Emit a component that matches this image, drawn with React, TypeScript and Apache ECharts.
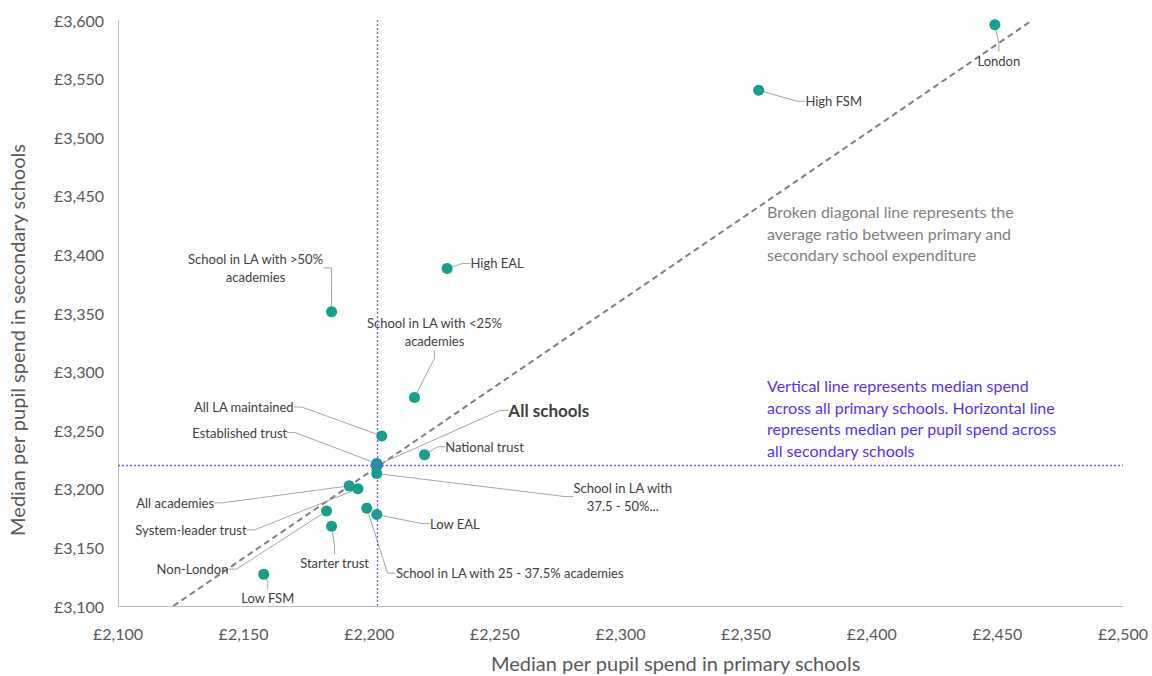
import React, { useEffect, useRef } from "react";
import * as echarts from "echarts";

// ---- data ----
const names = [
  "London",
  "High FSM",
  "High EAL",
  "School in LA with >50%\nacademies",
  "School in LA with <25%\nacademies",
  "All LA maintained",
  "Established trust",
  "All schools",
  "National trust",
  "School in LA with\n37.5 - 50%...",
  "All academies",
  "System-leader trust",
  "Non-London",
  "Starter trust",
  "Low EAL",
  "School in LA with 25 - 37.5% academies",
  "Low FSM",
];
const primarySpend = [2449, 2355, 2231, 2185, 2218, 2205, 2203, 2203, 2222, 2203, 2192, 2195.5, 2183, 2185, 2203, 2199, 2158];
const secondarySpend = [3596, 3540, 3388, 3351, 3278, 3245, 3221.5, 3220, 3229, 3213, 3202.5, 3200, 3181, 3168, 3178, 3183.5, 3127];

const medianPrimary = 2203;
const medianSecondary = 3220;
const ratioLineX = [2122, 2464];
const ratioLineY = [3100, 3600];

const xTicks = { min: 2100, max: 2500, interval: 50 };
const yTicks = { min: 3100, max: 3600, interval: 50 };

const xTitle = "Median per pupil spend in primary schools";
const yTitle = "Median per pupil spend in secondary schools";
const noteDiagonal = "Broken diagonal line represents the\naverage ratio between primary and\nsecondary school expenditure";
const noteMedian = "Vertical line represents median spend\nacross all primary schools. Horizontal line\nrepresents median per pupil spend across\nall secondary schools";

// ---- label layout (pixel offsets of labels from their points) ----
const labelOffsets: Record<string, [number, number]> = {
  "London": [4, 36],
  "High FSM": [75, 11],
  "High EAL": [50, -5],
  "School in LA with >50%\nacademies": [-76, -44],
  "School in LA with <25%\nacademies": [20, -65],
  "All LA maintained": [-138, -29],
  "Established trust": [-137, -31],
  "All schools": [172, -55],
  "National trust": [60, -8],
  "School in LA with\n37.5 - 50%...": [246, 23],
  "All academies": [-174, 17],
  "System-leader trust": [-167, 41],
  "Non-London": [-134, 58],
  "Starter trust": [3, 37],
  "Low EAL": [78, 9],
  "School in LA with 25 - 37.5% academies": [143, 65],
  "Low FSM": [4, 24],
};

const FONT = "Lato, 'Open Sans', sans-serif";
const fmt = (v: number) => "£" + v.toLocaleString("en-GB");

export default function App() {
  const ref = useRef<HTMLDivElement>(null);
  useEffect(() => {
    if (!ref.current) return;
    document.body.style.margin = "0";
    const chart = echarts.init(ref.current, undefined, { renderer: "svg" });
    const points = names.map((n, i) => {
      const item: any = { name: n, value: [primarySpend[i], secondarySpend[i]] };
      if (n === "All schools") {
        item.label = { fontSize: 17, fontWeight: "bold", color: "#404040" };
        item.itemStyle = { borderColor: "#4A4AE0", borderWidth: 1 };
      }
      return item;
    });
    chart.setOption({
      animation: false,
      grid: { left: 118, right: 29, top: 20, bottom: 70, containLabel: false },
      xAxis: {
        type: "value",
        ...xTicks,
        axisLine: { show: true, lineStyle: { color: "#BFBFBF" } },
        axisTick: { show: false },
        splitLine: { show: false },
        axisLabel: { formatter: fmt, color: "#595959", fontSize: 16, margin: 19, fontFamily: FONT },
      },
      yAxis: {
        type: "value",
        ...yTicks,
        axisLine: { show: true, lineStyle: { color: "#BFBFBF" } },
        axisTick: { show: false },
        splitLine: { show: false },
        axisLabel: { formatter: fmt, color: "#595959", fontSize: 16, margin: 14, fontFamily: FONT },
      },
      series: [
        {
          type: "line",
          data: ratioLineX.map((x, i) => [x, ratioLineY[i]]),
          symbol: "none",
          lineStyle: { color: "#7F7F7F", width: 2, type: [6, 4] },
          z: 2,
          silent: true,
        },
        {
          type: "scatter",
          data: points,
          symbolSize: 11,
          itemStyle: { color: "#14A08A", opacity: 1 },
          z: 3,
          label: {
            show: true,
            position: "inside",
            formatter: (p: any) => p.name,
            color: "#404040",
            fontSize: 13,
            fontFamily: FONT,
            align: "center",
            lineHeight: 18,
          },
          labelLine: { show: true, length2: 8, lineStyle: { color: "#A6A6A6", width: 1 } },
          labelLayout: (params: any) => {
            const name = names[params.dataIndex];
            const off = labelOffsets[name] || [0, 0];
            return { dx: off[0], dy: off[1] };
          },
          markLine: {
            silent: true,
            symbol: "none",
            label: { show: false },
            lineStyle: { color: "#6E5BFF", type: [2, 2], width: 1.3 },
            data: [{ xAxis: medianPrimary }, { yAxis: medianSecondary }],
            z: 4,
          },
        },
      ],
      graphic: [
        {
          type: "text",
          x: 767,
          y: 201,
          style: {
            text: noteDiagonal,
            fill: "#7F7F7F",
            fontSize: 16,
            lineHeight: 21.5,
            fontFamily: FONT,
          },
        },
        {
          type: "text",
          x: 767,
          y: 375,
          style: {
            text: noteMedian,
            fill: "#5B2EF0",
            fontSize: 16,
            lineHeight: 21.5,
            fontFamily: FONT,
          },
        },
        {
          type: "text",
          x: 491,
          y: 663,
          style: {
            text: xTitle,
            fill: "#595959",
            fontSize: 20,
            fontFamily: FONT,
            align: "left",
            verticalAlign: "middle",
          },
        },
        {
          type: "text",
          x: 17,
          y: 340,
          rotation: Math.PI / 2,
          style: {
            text: yTitle,
            fill: "#595959",
            fontSize: 20,
            fontFamily: FONT,
            align: "center",
            verticalAlign: "middle",
          },
        },
      ],
    });
    return () => chart.dispose();
  }, []);
  return <div ref={ref} style={{ width: 1152, height: 676 }} />;
}
